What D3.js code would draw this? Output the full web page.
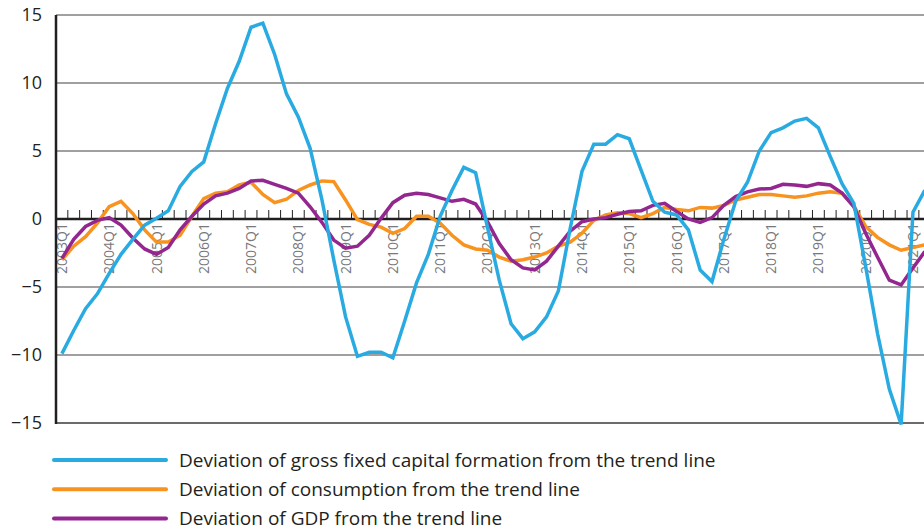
<!DOCTYPE html>
<html>
<head>
<meta charset="utf-8">
<script src="https://cdnjs.cloudflare.com/ajax/libs/d3/7.8.5/d3.min.js"></script>
<style>
  body { margin: 0; background: #fff; }
  svg { display: block; }
  .y_label { font-family: "Open Sans", sans-serif; font-size: 18px; fill: #231f20; }
  .x_label { font-family: "Open Sans", sans-serif; font-size: 14px; fill: #77787b; }
  .legend_label { font-family: "Open Sans", sans-serif; font-size: 19px; fill: #231f20; }
</style>
</head>
<body>
<div id="chart"></div>
<script>
const startYear = 2003;
const quarterCount = 74;
const quarters = d3.range(quarterCount).map(function (i) {
  return (startYear + Math.floor(i / 4)) + "Q" + (i % 4 + 1);
});

const yTicks = [-15, -10, -5, 0, 5, 10, 15];

const gfcf = [-9.9,-8.2,-6.6,-5.5,-4.0,-2.6,-1.5,-0.45,0.05,0.6,2.4,3.5,4.2,7.0,9.6,11.6,14.1,14.4,12.1,9.2,
  7.5,5.2,1.4,-3.0,-7.2,-10.1,-9.8,-9.8,-10.2,-7.5,-4.7,-2.6,0.2,2.1,3.8,3.4,-0.6,-4.5,-7.7,-8.8,
  -8.3,-7.2,-5.3,-0.7,3.5,5.5,5.5,6.2,5.9,3.6,1.3,0.5,0.3,-0.8,-3.75,-4.6,-1.5,1.3,2.7,5.0,
  6.35,6.7,7.2,7.4,6.7,4.6,2.6,1.15,-3.5,-8.4,-12.5,-15.1,0.5,2.1];

const consumption = [-3.0,-2.0,-1.3,-0.3,0.9,1.3,0.4,-0.8,-1.7,-1.7,-1.2,0.2,1.5,1.9,2.0,2.5,2.7,1.8,1.2,1.45,
  2.1,2.5,2.8,2.75,1.4,-0.05,-0.4,-0.6,-1.05,-0.7,0.2,0.2,-0.3,-1.2,-1.9,-2.2,-2.3,-2.8,-3.1,-3.0,
  -2.8,-2.5,-2.0,-1.7,-1.05,-0.1,0.3,0.45,0.4,0.1,0.4,0.85,0.7,0.6,0.85,0.8,1.0,1.4,1.6,1.8,
  1.8,1.7,1.6,1.7,1.9,2.0,1.9,0.95,-0.55,-1.35,-1.9,-2.3,-2.1,-1.9];

const gdp = [-2.9,-1.5,-0.55,-0.1,0.1,-0.45,-1.4,-2.2,-2.6,-2.1,-0.8,0.2,1.1,1.7,1.9,2.25,2.8,2.85,2.55,2.25,
  1.9,0.9,-0.25,-1.55,-2.15,-2.0,-1.2,0.05,1.2,1.75,1.9,1.8,1.55,1.3,1.45,1.1,-0.2,-1.8,-3.0,-3.6,
  -3.75,-3.1,-2.0,-0.9,-0.2,0.0,0.1,0.35,0.55,0.6,1.0,1.15,0.55,0.0,-0.25,0.1,1.0,1.65,2.0,2.2,
  2.25,2.55,2.5,2.4,2.6,2.5,1.9,0.9,-1.05,-2.8,-4.5,-4.85,-3.6,-2.4];

const seriesNames = [
  "Deviation of gross fixed capital formation from the trend line",
  "Deviation of consumption from the trend line",
  "Deviation of GDP from the trend line"
];
const seriesColors = ["#29abe2", "#f7931e", "#93278f"];

const width = 924;
const height = 531;
const plot = { top: 15, left: 56, bottom: 423, bandWidth: 11.82 };

const svg = d3.select("#chart").append("svg")
  .attr("width", width)
  .attr("height", height);

const x = d3.scaleBand()
  .domain(quarters)
  .range([plot.left, plot.left + quarterCount * plot.bandWidth])
  .padding(0);

const y = d3.scaleLinear()
  .domain([-15, 15])
  .range([plot.bottom, plot.top]);

function xCenter(q) { return x(q) + x.bandwidth() / 2 }

// grid lines and y labels
const grid = svg.append("g");
grid.selectAll("line")
  .data(yTicks.filter(function (t) { return t !== 0 }))
  .enter().append("line")
    .attr("x1", plot.left)
    .attr("x2", width)
    .attr("y1", function (d) { return y(d) })
    .attr("y2", function (d) { return y(d) })
    .attr("stroke", function (d) { return d === -15 ? "#3a3a3a" : "#808080" })
    .attr("stroke-width", 1.5);

grid.selectAll("text")
  .data(yTicks)
  .enter().append("text")
    .attr("class", "y_label")
    .attr("x", 42)
    .attr("y", function (d) { return y(d) })
    .attr("dy", "0.36em")
    .attr("text-anchor", "end")
    .text(function (d) { return d < 0 ? "\u2212" + Math.abs(d) : d });

// quarter ticks above the zero line
const tickBounds = quarters.slice(1);
svg.append("g").selectAll("line")
  .data(tickBounds)
  .enter().append("line")
    .attr("x1", function (d) { return x(d) })
    .attr("x2", function (d) { return x(d) })
    .attr("y1", y(0) - 9)
    .attr("y2", y(0))
    .attr("stroke", "#231f20")
    .attr("stroke-width", 1);

// year labels below zero line
svg.append("g").selectAll("text")
  .data(quarters.filter(function (d, i) { return i % 4 === 0 }))
  .enter().append("text")
    .attr("class", "x_label")
    .attr("transform", function (d) { return "translate(" + xCenter(d) + "," + (y(0) + 4) + ") rotate(-90)" })
    .attr("dy", "0.36em")
    .attr("text-anchor", "end")
    .text(function (d) { return d });

// zero line and y axis
svg.append("line")
  .attr("x1", plot.left).attr("x2", width)
  .attr("y1", y(0)).attr("y2", y(0))
  .attr("stroke", "#231f20")
  .attr("stroke-width", 2.5);
svg.append("line")
  .attr("x1", plot.left).attr("x2", plot.left)
  .attr("y1", y(15)).attr("y2", y(-15) + 1)
  .attr("stroke", "#231f20")
  .attr("stroke-width", 2.5);

// series lines, consumption first so gfcf ends on top
const line = d3.line()
  .x(function (d, i) { return xCenter(quarters[i]) })
  .y(function (d) { return y(d) });

const drawOrder = [1, 2, 0];
const allSeries = [gfcf, consumption, gdp];
drawOrder.forEach(function (k) {
  svg.append("path")
    .attr("fill", "none")
    .attr("stroke", seriesColors[k])
    .attr("stroke-width", 3.5)
    .attr("d", line(allSeries[k]));
});

// legend
const legend = svg.append("g")
  .selectAll("g")
  .data(seriesNames)
  .enter().append("g")
    .attr("transform", function (d, i) { return "translate(54," + (460 + i * 29.3) + ")" });

legend.append("line")
  .attr("x1", 0).attr("x2", 112)
  .attr("stroke", function (d, i) { return seriesColors[i] })
  .attr("stroke-width", 4)
  .attr("stroke-linecap", "round");

legend.append("text")
  .attr("class", "legend_label")
  .attr("x", 125)
  .attr("dy", "0.36em")
  .text(function (d) { return d });
</script>
</body>
</html>
